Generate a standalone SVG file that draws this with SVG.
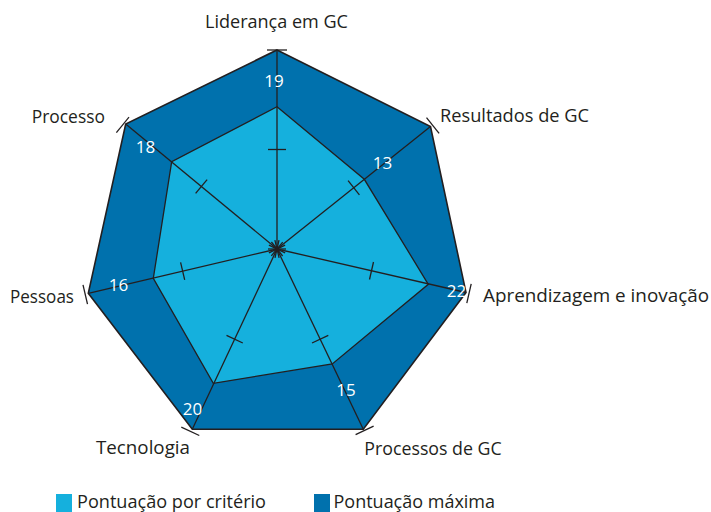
<svg xmlns="http://www.w3.org/2000/svg" width="711" height="512" viewBox="0 0 711 512">
<style>
.lbl{font-family:"Open Sans","Noto Sans",sans-serif;font-size:18px;fill:#231f20}
.val{font-family:"Open Sans","Noto Sans",sans-serif;font-size:17px;fill:#ffffff}
.ax{stroke:#231f20;stroke-width:1.3;fill:none}
.tk{stroke:#231f20;stroke-width:1.3;fill:none}
</style>
<rect width="711" height="512" fill="#ffffff"/>
<g id="max-polygon">
<polygon points="277,50 430.5,126.5 466,292.5 363.3,429.3 192.3,429.3 88.3,293.3 125.7,124" fill="#0071ad" stroke="#231f20" stroke-width="1.6" stroke-linejoin="miter"/>
</g>
<g id="score-polygon">
<polygon points="277,106.7 364.3,179.3 428.3,284.3 332.3,364 213.3,383.3 153.3,278.3 171.7,161.7" fill="#15b0dd" stroke="#231f20" stroke-width="1.3"/>
</g>
<g id="connectors">
<line class="ax" x1="277" y1="249" x2="277" y2="50"/>
<line class="ax" x1="277" y1="249" x2="430.5" y2="126.5"/>
<line class="ax" x1="277" y1="249" x2="466" y2="292.5"/>
<line class="ax" x1="277" y1="249" x2="363.3" y2="429.3"/>
<line class="ax" x1="277" y1="249" x2="192.3" y2="429.3"/>
<line class="ax" x1="277" y1="249" x2="88.3" y2="293.3"/>
<line class="ax" x1="277" y1="249" x2="125.7" y2="124"/>
<!-- center ticks -->
<line class="tk" x1="268" y1="249" x2="286" y2="249"/>
<line class="tk" x1="271.4" y1="242" x2="282.6" y2="256"/>
<line class="tk" x1="279" y1="240.2" x2="275" y2="257.8"/>
<line class="tk" x1="285.1" y1="245.1" x2="268.9" y2="252.9"/>
<line class="tk" x1="268.9" y1="245.2" x2="285.1" y2="252.8"/>
<line class="tk" x1="274.9" y1="240.2" x2="279.1" y2="257.8"/>
<line class="tk" x1="271.3" y1="255.9" x2="282.7" y2="242.1"/>
<!-- mid ticks -->
<line class="tk" x1="268" y1="149.5" x2="286" y2="149.5"/>
<line class="tk" x1="348.1" y1="180.7" x2="359.4" y2="194.8"/>
<line class="tk" x1="373.5" y1="262" x2="369.5" y2="279.5"/>
<line class="tk" x1="328.3" y1="335.3" x2="312" y2="343"/>
<line class="tk" x1="226.5" y1="335.3" x2="242.8" y2="343"/>
<line class="tk" x1="180.6" y1="262.4" x2="184.7" y2="279.9"/>
<line class="tk" x1="195.6" y1="193.4" x2="207.1" y2="179.6"/>
<!-- outer ticks -->
<line class="tk" x1="267" y1="50" x2="287" y2="50"/>
<line class="tk" x1="426.5" y1="117.6" x2="439.1" y2="133.3"/>
<line class="tk" x1="471.2" y1="283.8" x2="466.8" y2="303.2"/>
<line class="tk" x1="373.6" y1="426.1" x2="355.6" y2="434.7"/>
<line class="tk" x1="181.3" y1="427.1" x2="199.3" y2="435.5"/>
<line class="tk" x1="83" y1="284.8" x2="87.5" y2="304.2"/>
<line class="tk" x1="116.4" y1="132.6" x2="129" y2="117.2"/>
</g>
<g id="values">
<text class="val" x="274" y="87.3" text-anchor="middle">19</text>
<text class="val" x="145.5" y="152.7" text-anchor="middle">18</text>
<text class="val" x="382.5" y="169" text-anchor="middle">13</text>
<text class="val" x="456.5" y="296.7" text-anchor="middle">22</text>
<text class="val" x="346" y="395.7" text-anchor="middle">15</text>
<text class="val" x="192.5" y="415" text-anchor="middle">20</text>
<text class="val" x="118.5" y="290.7" text-anchor="middle">16</text>
</g>
<g id="node-lideranca"><text class="lbl" x="205" y="28.3" textLength="143" lengthAdjust="spacingAndGlyphs">Liderança em GC</text></g>
<g id="node-resultados"><text class="lbl" x="440" y="122.3" textLength="149" lengthAdjust="spacingAndGlyphs">Resultados de GC</text></g>
<g id="node-aprendizagem"><text class="lbl" x="483" y="301.7" textLength="226" lengthAdjust="spacingAndGlyphs">Aprendizagem e inovação</text></g>
<g id="node-processos-gc"><text class="lbl" x="364.3" y="455" textLength="137.4" lengthAdjust="spacingAndGlyphs">Processos de GC</text></g>
<g id="node-tecnologia"><text class="lbl" x="96" y="454" textLength="94" lengthAdjust="spacingAndGlyphs">Tecnologia</text></g>
<g id="node-pessoas"><text class="lbl" x="10" y="303.3" textLength="64" lengthAdjust="spacingAndGlyphs">Pessoas</text></g>
<g id="node-processo"><text class="lbl" x="31.7" y="123.3" textLength="73.3" lengthAdjust="spacingAndGlyphs">Processo</text></g>
<g id="legend">
<rect x="56" y="494" width="16" height="18" fill="#15b0dd"/>
<text class="lbl" x="77" y="507.5" textLength="189" lengthAdjust="spacingAndGlyphs">Pontuação por critério</text>
<rect x="314" y="494" width="16" height="18" fill="#0071ad"/>
<text class="lbl" x="333.5" y="507.5" textLength="161.5" lengthAdjust="spacingAndGlyphs">Pontuação máxima</text>
</g>
</svg>
